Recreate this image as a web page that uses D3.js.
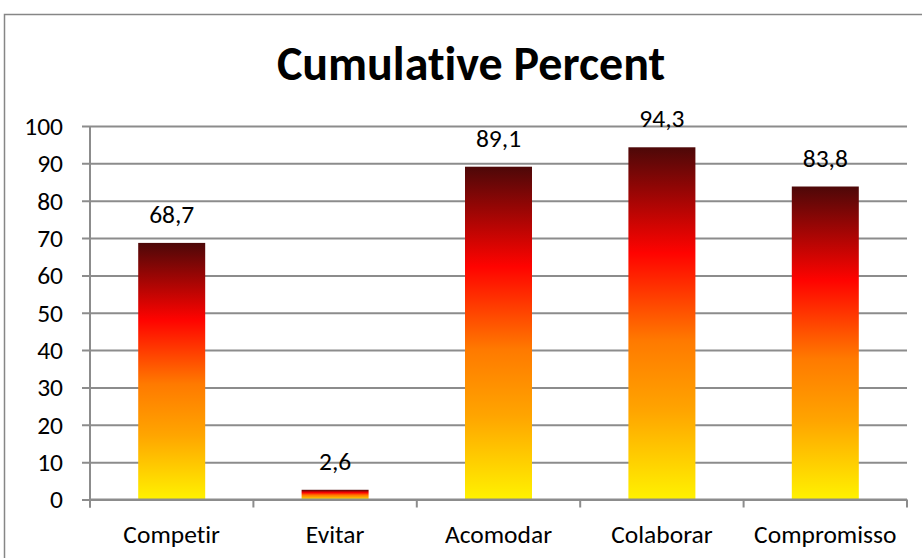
<!DOCTYPE html>
<html>
<head>
<meta charset="utf-8">
<script src="https://cdn.jsdelivr.net/npm/d3@7"></script>
<style>
  html, body { margin: 0; padding: 0; background: #fff; }
  svg { display: block; }
  text {
    font-family: Carlito, Calibri, "Open Sans", "Noto Sans", sans-serif;
    fill: #000;
    font-variant-ligatures: none;
    font-feature-settings: "liga" 0, "clig" 0;
  }
</style>
</head>
<body>
<svg id="chart" width="922" height="558"></svg>
<script>
// Chart data
const categories = ["Competir", "Evitar", "Acomodar", "Colaborar", "Compromisso"];
const values = [68.7, 2.6, 89.1, 94.3, 83.8];
const yTicks = [0, 10, 20, 30, 40, 50, 60, 70, 80, 90, 100];
const title = "Cumulative Percent";

const svg = d3.select("#chart");
const plot = { left: 90, right: 907, top: 126, bottom: 499.5 };
const labelSize = 25.5;

// Outer chart frame
svg.append("rect")
  .attr("x", 4.5).attr("y", 14.5)
  .attr("width", 960).attr("height", 600)
  .attr("fill", "#fff")
  .attr("stroke", "#868686").attr("stroke-width", 1.5);

// Fire-style gradient, dark at the top of each bar to yellow at the base
const defs = svg.append("defs");
const grad = defs.append("linearGradient")
  .attr("id", "fire")
  .attr("x1", 0).attr("y1", 0).attr("x2", 0).attr("y2", 1);
[
  [0, "#4d0808"],
  [0.3, "#ff0300"],
  [0.55, "#ff7a00"],
  [0.75, "#ffa500"],
  [1, "#fff200"]
].forEach(([o, c]) => grad.append("stop").attr("offset", o).attr("stop-color", c));

const x = d3.scaleBand()
  .domain(categories)
  .range([plot.left, plot.right])
  .paddingInner(0.59)
  .paddingOuter(0.295);

const y = d3.scaleLinear()
  .domain([0, 100])
  .range([plot.bottom, plot.top]);

// Horizontal gridlines with left tick marks
const yAxis = d3.axisLeft(y)
  .tickValues(yTicks)
  .tickSize(-(plot.right - plot.left))
  .tickSizeOuter(0)
  .tickPadding(0)
  .tickFormat("");
const gy = svg.append("g")
  .attr("transform", `translate(${plot.left},0)`)
  .call(yAxis);
gy.select(".domain").remove();
gy.selectAll(".tick line")
  .attr("x1", -8)
  .attr("stroke", "#8c8c8c").attr("stroke-width", 2);

// Y tick labels
svg.append("g").selectAll("text")
  .data(yTicks)
  .join("text")
  .attr("x", 63)
  .attr("y", d => y(d))
  .attr("dy", "0.35em")
  .attr("text-anchor", "end")
  .attr("font-size", labelSize)
  .text(d => d);

// Vertical axis line
svg.append("line")
  .attr("x1", plot.left).attr("x2", plot.left)
  .attr("y1", plot.top).attr("y2", plot.bottom + 8)
  .attr("stroke", "#8c8c8c").attr("stroke-width", 2);

// Bars
svg.append("g").selectAll("rect")
  .data(values)
  .join("rect")
  .attr("x", (d, i) => x(categories[i]))
  .attr("width", x.bandwidth())
  .attr("y", d => y(d))
  .attr("height", d => y(0) - y(d))
  .attr("fill", "url(#fire)");

// X axis with tick marks between categories
const step = x.step();
const boundaries = d3.range(categories.length + 1).map(i => plot.left + i * step);
svg.append("line")
  .attr("x1", plot.left).attr("x2", plot.right)
  .attr("y1", plot.bottom).attr("y2", plot.bottom)
  .attr("stroke", "#8c8c8c").attr("stroke-width", 2);
svg.append("g").selectAll("line")
  .data(boundaries)
  .join("line")
  .attr("x1", d => d).attr("x2", d => d)
  .attr("y1", plot.bottom).attr("y2", plot.bottom + 8)
  .attr("stroke", "#8c8c8c").attr("stroke-width", 2);

// Category labels
svg.append("g").selectAll("text")
  .data(categories)
  .join("text")
  .attr("x", d => x(d) + x.bandwidth() / 2)
  .attr("y", 543)
  .attr("text-anchor", "middle")
  .attr("font-size", labelSize)
  .text(d => d);

// Value labels above bars
const fmt = v => d3.format(".1f")(v).replace(".", ",");
svg.append("g").selectAll("text")
  .data(values)
  .join("text")
  .attr("x", (d, i) => x(categories[i]) + x.bandwidth() / 2)
  .attr("y", d => y(d) - 20)
  .attr("text-anchor", "middle")
  .attr("font-size", labelSize)
  .text(d => fmt(d));

// Title
svg.append("text")
  .attr("x", 471)
  .attr("y", 80)
  .attr("text-anchor", "middle")
  .attr("font-size", 48)
  .attr("font-weight", "bold")
  .text(title);
</script>
</body>
</html>
